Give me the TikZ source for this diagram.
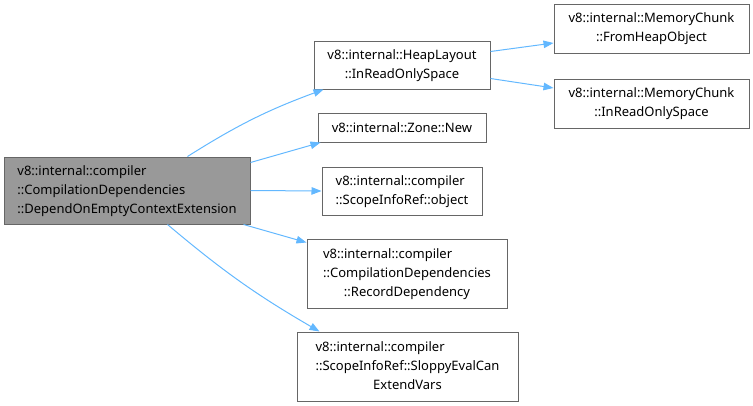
\documentclass[tikz,border=0pt]{standalone}
\usepackage{fontspec}
\setmainfont{Noto Sans}
\usetikzlibrary{arrows.meta,calc}
\definecolor{edgeblue}{HTML}{63B8FF}
\definecolor{nodeborder}{HTML}{666666}
\definecolor{mainfill}{HTML}{999999}
\newcommand{\nlines}[1]{\begin{tabular}{@{}l@{}}#1\end{tabular}}
\newcommand{\lastc}[1]{\multicolumn{1}{@{}c@{}}{#1}}
\tikzset{
  box/.style={draw=nodeborder, line width=1pt, fill=white, inner sep=0pt,
    font=\fontsize{13}{19}\selectfont, align=center},
  mainbox/.style={box, fill=mainfill},
  edge/.style={draw=edgeblue, line width=1pt, -{Triangle[length=10pt,width=7.5pt]}},
}
\renewcommand{\arraystretch}{1}
\begin{document}
\begin{tikzpicture}[x=1pt,y=-1pt]
\useasboundingbox (0,0) rectangle (753,405);
\node[mainbox, minimum width=246pt, minimum height=67pt] (main) at (127,190.5)
  {\nlines{v8::internal::compiler\\::CompilationDependencies\\::DependOnEmptyContextExtension}};
\node[box, minimum width=176pt, minimum height=48pt] (heap) at (402,65)
  {\nlines{v8::internal::HeapLayout\\\lastc{::InReadOnlySpace}}};
\node[box, minimum width=168pt, minimum height=29pt] (zone) at (402,127.5)
  {v8::internal::Zone::New};
\node[box, minimum width=160pt, minimum height=48pt] (obj) at (402,191)
  {\nlines{v8::internal::compiler\\::ScopeInfoRef::object}};
\node[box, minimum width=200pt, minimum height=69pt] (rec) at (407,273.5)
  {\nlines{v8::internal::compiler\\::CompilationDependencies\\\lastc{::RecordDependency}}};
\node[box, minimum width=221pt, minimum height=69pt] (slop) at (407.5,366.5)
  {\nlines{v8::internal::compiler\\::ScopeInfoRef::SloppyEvalCan\\\lastc{ExtendVars}}};
\node[box, minimum width=195pt, minimum height=49pt] (fho) at (651.5,28.5)
  {\nlines{v8::internal::MemoryChunk\\\lastc{::FromHeapObject}}};
\node[box, minimum width=195pt, minimum height=49pt] (iro) at (651.5,103.5)
  {\nlines{v8::internal::MemoryChunk\\\lastc{::InReadOnlySpace}}};

\draw[edge] ($(main.north west)+(184,0)$) to[bend left=6] ($(heap.south west)+(10,0)$);
\draw[edge] ($(main.north east)+(0,6)$) -- ($(zone.south west)+(3,0)$);
\draw[edge] (main.east) -- (obj.west);
\draw[edge] ($(main.south east)+(-7,0)$) -- ($(rec.north west)+(0,4)$);
\draw[edge] ($(main.south west)+(164,0)$) to[bend right=5] ($(slop.north west)+(23,0)$);
\draw[edge] ($(heap.north east)+(0,11)$) -- ($(fho.west)+(0,14.5)$);
\draw[edge] ($(heap.south east)+(0,-11)$) -- ($(iro.west)+(0,-15.5)$);
\end{tikzpicture}
\end{document}
